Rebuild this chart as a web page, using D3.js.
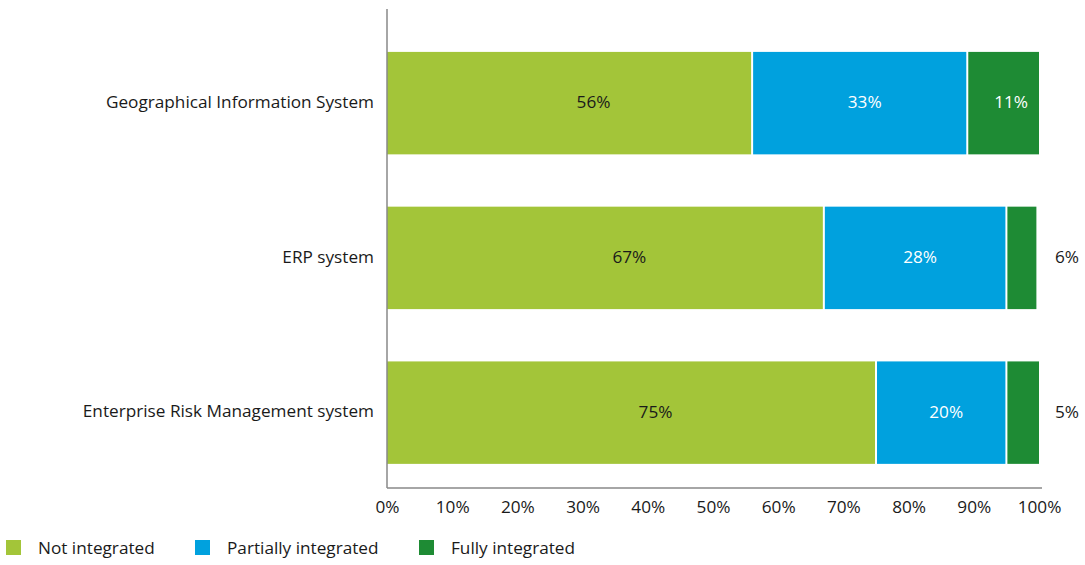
<!DOCTYPE html>
<html><head><meta charset="utf-8">
<script src="https://cdn.jsdelivr.net/npm/d3@7"></script>
<style>body{margin:0;background:#fff}svg{display:block}text{font-family:"Open Sans",sans-serif}</style>
</head><body>
<svg id="c" width="1085" height="565"></svg>
<script>
const categories = ["Geographical Information System", "ERP system", "Enterprise Risk Management system"];
const seriesNames = ["Not integrated", "Partially integrated", "Fully integrated"];
const notIntegrated = [56, 67, 75];
const partiallyIntegrated = [33, 28, 20];
const fullyIntegrated = [11, 4.6, 5];
const labelNot = ["56%", "67%", "75%"];
const labelPartial = ["33%", "28%", "20%"];
const labelFully = ["11%", "6%", "5%"];
const tickValues = [0, 10, 20, 30, 40, 50, 60, 70, 80, 90, 100];
const colors = ["#a3c539", "#00a1de", "#1e8b34"];
const labelColors = ["#1a1a1a", "#fff", "#fff"];

const FS = 17.2;
const svg = d3.select("#c");
const x = d3.scaleLinear().domain([0, 100]).range([387, 1039]);
const y = d3.scaleBand().domain(categories).range([9, 488])
  .paddingInner(0.338).paddingOuter(0.2166).align(0.64);

const rows = categories.map((c, i) => ({
  cat: c,
  vals: [notIntegrated[i], partiallyIntegrated[i], fullyIntegrated[i]],
  labels: [labelNot[i], labelPartial[i], labelFully[i]]
}));
const labelDx = [24, 5, 8];

rows.forEach(r => {
  let acc = 0;
  r.vals.forEach((v, k) => {
    const x0 = x(acc), x1 = x(acc + v);
    svg.append("rect")
      .attr("x", x0 + (k > 0 ? 1 : 0)).attr("y", y(r.cat))
      .attr("width", x1 - x0 - (k > 0 ? 1 : 0) - (k < 2 ? 1 : 0))
      .attr("height", y.bandwidth())
      .attr("fill", colors[k]);
    const inside = v >= 8;
    svg.append("text")
      .attr("x", inside ? (x0 + x1) / 2 + labelDx[k] : x(100) + 16)
      .attr("y", y(r.cat) + y.bandwidth() / 2)
      .attr("dy", "0.3em")
      .attr("text-anchor", inside ? "middle" : "start")
      .attr("font-size", FS)
      .attr("fill", inside ? labelColors[k] : "#1a1a1a")
      .text(r.labels[k]);
    acc += v;
  });
  svg.append("text")
    .attr("x", 374).attr("y", y(r.cat) + y.bandwidth() / 2)
    .attr("dy", "0.28em").attr("text-anchor", "end")
    .attr("font-size", FS).attr("fill", "#1a1a1a")
    .text(r.cat);
});

// axes
const xAxis = d3.axisBottom(x).tickValues(tickValues).tickFormat(d => d + "%").tickSize(0).tickPadding(13);
const gx = svg.append("g").attr("transform", "translate(0,488)").call(xAxis);
gx.select(".domain").attr("stroke", "#888").attr("stroke-width", 1.5).attr("d", "M387,0H1042");
gx.selectAll("text").attr("font-size", FS).attr("fill", "#1a1a1a").attr("font-family", "Open Sans, sans-serif");
svg.append("line").attr("x1", 387).attr("x2", 387).attr("y1", 9).attr("y2", 488)
  .attr("stroke", "#888").attr("stroke-width", 1.5);

// legend
const legendX = [6, 195, 419];
seriesNames.forEach((s, k) => {
  svg.append("rect").attr("x", legendX[k]).attr("y", 540).attr("width", 15).attr("height", 15).attr("fill", colors[k]);
  svg.append("text").attr("x", legendX[k] + 32).attr("y", 548).attr("dy", "0.33em")
    .attr("font-size", FS).attr("fill", "#1a1a1a").text(s);
});
</script>
</body></html>
